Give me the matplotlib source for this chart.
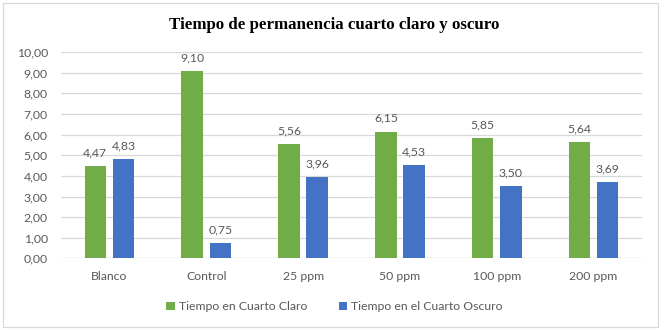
import matplotlib.pyplot as plt
import numpy as np
from matplotlib.patches import Rectangle

categories = ["Blanco", "Control", "25 ppm", "50 ppm", "100 ppm", "200 ppm"]
claro = [4.47, 9.10, 5.56, 6.15, 5.85, 5.64]
oscuro = [4.83, 0.75, 3.96, 4.53, 3.50, 3.69]

GREEN = "#70AD47"
BLUE = "#4472C4"
TEXT = "#595959"

plt.rcParams["font.family"] = ["Lato", "DejaVu Sans"]

fig = plt.figure(figsize=(6.69, 3.30), dpi=100)
ax = fig.add_axes([0.0912, 0.217, 0.8685, 0.625])

x = np.arange(len(categories))
w = 0.222
off = 0.145
b1 = ax.bar(x - off, claro, w, color=GREEN, label="Tiempo en Cuarto Claro", zorder=3)
b2 = ax.bar(x + off, oscuro, w, color=BLUE, label="Tiempo en el Cuarto Oscuro", zorder=3)

fmt = lambda v: f"{v:.2f}".replace(".", ",")
for bars, vals in ((b1, claro), (b2, oscuro)):
    for r, v in zip(bars, vals):
        ax.annotate(fmt(v), (r.get_x() + r.get_width() / 2, v), xytext=(0, 5.5),
                    textcoords="offset points", ha="center", va="bottom",
                    fontsize=8.8, color=TEXT)

ax.set_xlim(-0.5, len(categories) - 0.5)
ax.set_ylim(0, 10)
ax.set_yticks(np.arange(0, 11, 1))
ax.set_yticklabels([fmt(v) for v in np.arange(0, 11, 1)])
ax.set_xticks(x)
ax.set_xticklabels(categories)
ax.tick_params(axis="both", length=0, labelsize=8.8, colors=TEXT)
ax.tick_params(axis="x", pad=9)
ax.tick_params(axis="y", pad=9.5)
ax.grid(axis="y", color="#D9D9D9", linewidth=0.9, zorder=0)
for s in ax.spines.values():
    s.set_visible(False)
ax.axhline(0, color="#D9D9D9", linewidth=0.9, zorder=1)

fig.text(0.5, 0.924, "Tiempo de permanencia cuarto claro y oscuro", ha="center",
         va="center", fontsize=12.2, fontweight="bold", family="Liberation Serif")

fig.legend(loc="center", bbox_to_anchor=(0.5, 0.07), ncol=2, frameon=False,
           fontsize=8.8, handlelength=0.7, handleheight=0.7, handletextpad=0.3,
           columnspacing=2.6, labelcolor=TEXT)

fig.patches.append(Rectangle((0.0045, 0.009), 0.979, 0.982, transform=fig.transFigure,
                             fill=False, edgecolor="#D9D9D9", linewidth=0.9))

fig.savefig("out.png", dpi=100)
